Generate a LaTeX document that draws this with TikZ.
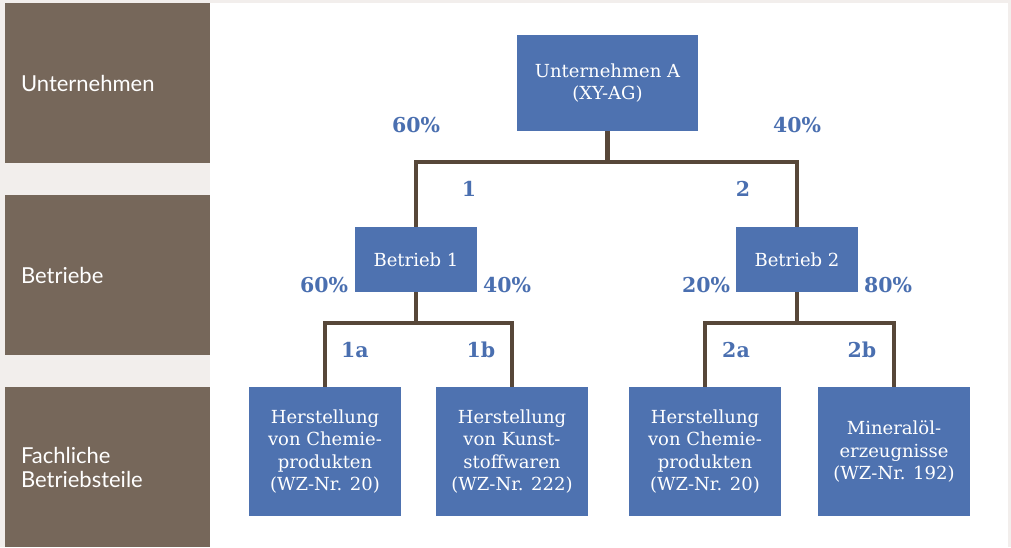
\documentclass[tikz,border=0pt]{standalone}
\usepackage{fontspec}
\setmainfont{DejaVu Serif}
\newfontfamily\rowfont{Lato}
\definecolor{pagegray}{HTML}{F2EEEC}
\definecolor{rowbrown}{HTML}{76675A}
\definecolor{boxblue}{HTML}{4E72B0}
\definecolor{labelblue}{HTML}{4A6FB0}
\definecolor{linkbrown}{HTML}{574739}
\tikzset{
  rowbox/.style={fill=rowbrown,text=white,minimum width=205pt,minimum height=160pt,
    inner xsep=16pt,text width=173pt,align=left,font=\rowfont\fontsize{22}{24}\selectfont},
  unitbox/.style={fill=boxblue,text=white,inner sep=0pt,align=center,
    font=\fontsize{18}{22.5}\selectfont},
  share/.style={text=labelblue,font=\bfseries\fontsize{20.5}{22}\selectfont},
  link/.style={draw=linkbrown,line width=4.5pt}
}
\begin{document}
\begin{tikzpicture}[x=1pt,y=-1pt]
\fill[pagegray] (0,0) rectangle (1011,547);
\fill[white] (210,3) rectangle (1008,547);
% row headings
\node[rowbox] (rowU) at (107.5,83) {Unternehmen};
\node[rowbox] (rowB) at (107.5,275) {Betriebe};
\node[rowbox] (rowF) at (107.5,467) {Fachliche\\Betriebsteile};
% boxes
\node[unitbox,minimum width=181pt,minimum height=96pt] (A) at (607.5,83) {Unternehmen A\\(XY-AG)};
\node[unitbox,minimum width=122pt,minimum height=65pt] (B1) at (416,259.5) {Betrieb 1};
\node[unitbox,minimum width=122pt,minimum height=65pt] (B2) at (797,259.5) {Betrieb 2};
\node[unitbox,minimum width=152pt,minimum height=129pt] (C1) at (325,451.5) {Herstellung\\von Chemie-\\produkten\\(WZ-Nr. 20)};
\node[unitbox,minimum width=152pt,minimum height=129pt] (C2) at (512,451.5) {Herstellung\\von Kunst-\\stoffwaren\\(WZ-Nr. 222)};
\node[unitbox,minimum width=152pt,minimum height=129pt] (C3) at (705,451.5) {Herstellung\\von Chemie-\\produkten\\(WZ-Nr. 20)};
\node[unitbox,minimum width=152pt,minimum height=129pt] (C4) at (894,451.5) {Mineralöl-\\erzeugnisse\\(WZ-Nr. 192)};
% connectors
\draw[link] (A.south) -- ++(0,31) -| (B1.north);
\draw[link] (A.south) -- ++(0,31) -| (B2.north);
\draw[link] (B1.south) -- ++(0,31) -| (C1.north);
\draw[link] (B1.south) -- ++(0,31) -| (C2.north);
\draw[link] (B2.south) -- ++(0,31) -| (C3.north);
\draw[link] (B2.south) -- ++(0,31) -| (C4.north);
% shares
\node[share] (sA1) at (416,125) {60\%};
\node[share] (sA2) at (797,125) {40\%};
\node[share] (nB1) at (469,189) {1};
\node[share] (nB2) at (743,189) {2};
\node[share] (sB11) at (324,285) {60\%};
\node[share] (sB12) at (507,285) {40\%};
\node[share] (sB21) at (706,285) {20\%};
\node[share] (sB22) at (888,285) {80\%};
\node[share] (nC1) at (355,350) {1a};
\node[share] (nC2) at (481,350) {1b};
\node[share] (nC3) at (736,350) {2a};
\node[share] (nC4) at (862,350) {2b};
\end{tikzpicture}
\end{document}
